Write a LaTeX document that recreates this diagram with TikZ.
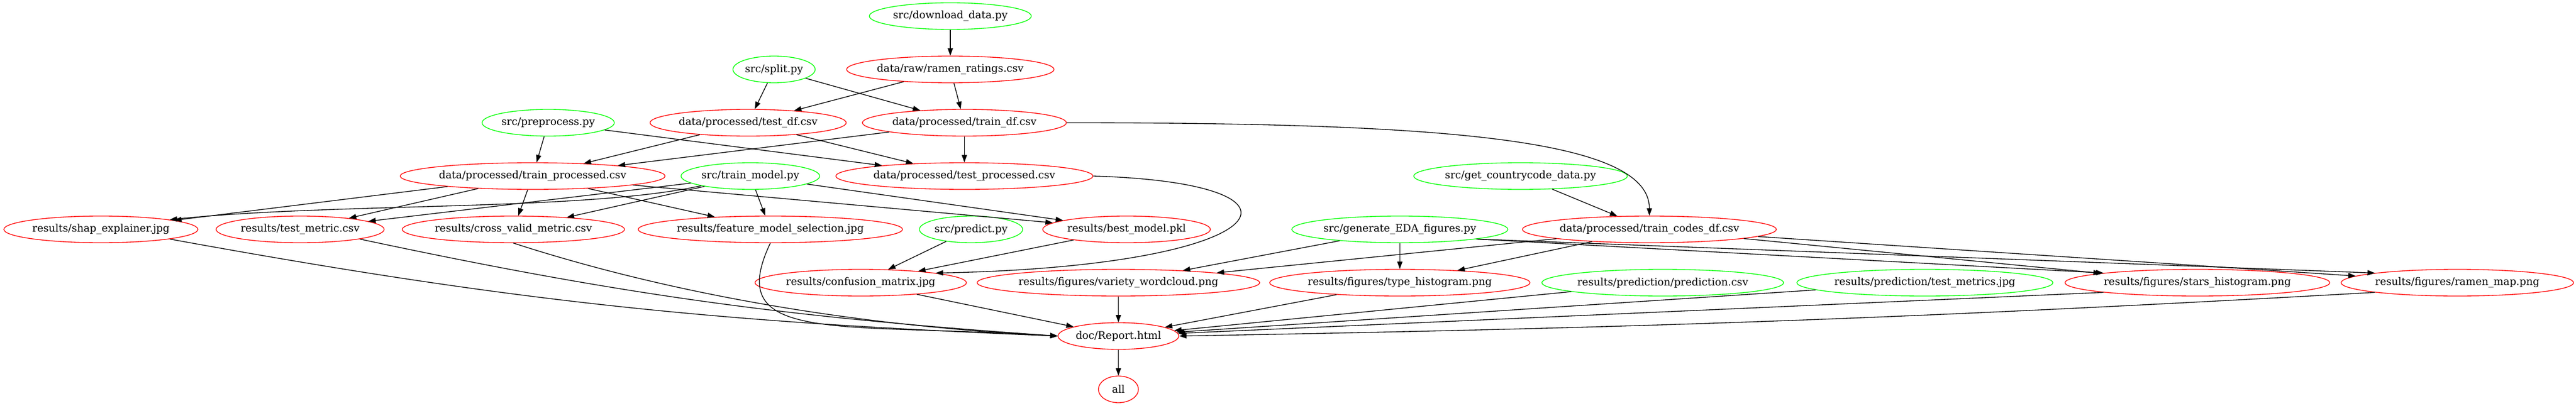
\documentclass[tikz,border=0pt]{standalone}
\usepackage{fontspec}
\setmainfont{DejaVu Serif}
\usetikzlibrary{shapes.geometric, arrows.meta, positioning}
\tikzstyle{script} = [ellipse, draw=green, line width=1pt, minimum width=54pt, minimum height=36pt, inner xsep=0pt, inner ysep=2pt, font=\fontsize{14pt}{16pt}\selectfont]
\tikzstyle{target} = [ellipse, draw=red, line width=1pt, minimum width=54pt, minimum height=36pt, inner xsep=0pt, inner ysep=2pt, font=\fontsize{14pt}{16pt}\selectfont]
\tikzstyle{arrow} = [line width=1pt,->,>={Triangle[length=10pt,width=7pt]}]

\begin{document}
\begin{tikzpicture}[node distance=72pt]
    \useasboundingbox (-1283.25pt,-526.5pt) rectangle (2195.25pt,21.75pt);

    \node (download) [script] {src/download\_data.py};
    \node (raw) [target, below of=download] {data/raw/ramen\_ratings.csv};
    \node (split) [script, left of=raw, xshift=-166pt] {src/split.py};
    \node (traindf) [target, below of=raw, xshift=19pt] {data/processed/train\_df.csv};
    \node (testdf) [target, left of=traindf, xshift=-220pt] {data/processed/test\_df.csv};
    \node (preprocess) [script, left of=testdf, xshift=-198pt] {src/preprocess.py};
    \node (testproc) [target, below of=traindf] {data/processed/test\_processed.csv};
    \node (trainmodel) [script, left of=testproc, xshift=-217pt] {src/train\_model.py};
    \node (trainproc) [target, left of=trainmodel, xshift=-222pt] {data/processed/train\_processed.csv};
    \node (country) [script, right of=testproc, xshift=679pt] {src/get\_countrycode\_data.py};

    \node (featsel) [target, below of=trainmodel, xshift=27pt] {results/feature\_model\_selection.jpg};
    \node (crossvalid) [target, left of=featsel, xshift=-275pt] {results/cross\_valid\_metric.csv};
    \node (testmetric) [target, left of=crossvalid, xshift=-216pt] {results/test\_metric.csv};
    \node (shap) [target, left of=testmetric, xshift=-197pt] {results/shap\_explainer.jpg};
    \node (predict) [script, right of=featsel, xshift=199pt] {src/predict.py};
    \node (bestmodel) [target, right of=predict, xshift=138pt] {results/best\_model.pkl};
    \node (eda) [script, right of=bestmodel, xshift=297pt] {src/generate\_EDA\_figures.py};
    \node (codes) [target, right of=eda, xshift=265pt] {data/processed/train\_codes\_df.csv};

    \node (wordcloud) [target, below of=bestmodel, xshift=-11pt] {results/figures/variety\_wordcloud.png};
    \node (confusion) [target, left of=wordcloud, xshift=-276pt] {results/confusion\_matrix.jpg};
    \node (typehist) [target, below of=eda] {results/figures/type\_histogram.png};
    \node (prediction) [script, right of=typehist, xshift=283pt] {results/prediction/prediction.csv};
    \node (testmetrics) [script, right of=prediction, xshift=282pt] {results/prediction/test\_metrics.jpg};
    \node (starshist) [target, right of=testmetrics, xshift=296pt] {results/figures/stars\_histogram.png};
    \node (ramenmap) [target, right of=starshist, xshift=279pt] {results/figures/ramen\_map.png};

    \node (report) [target, below of=wordcloud] {doc/Report.html};
    \node (all) [target, below of=report] {all};

    \draw [arrow] (download) -- (raw);
    \draw [arrow] (split) -- (testdf);
    \draw [arrow] (split) -- (traindf);
    \draw [arrow] (raw) -- (testdf);
    \draw [arrow] (raw) -- (traindf);
    \draw [arrow] (preprocess) -- (trainproc);
    \draw [arrow] (preprocess) -- (testproc);
    \draw [arrow] (testdf) -- (trainproc);
    \draw [arrow] (testdf) -- (testproc);
    \draw [arrow] (traindf) -- (trainproc);
    \draw [arrow] (traindf) -- (testproc);
    \draw [arrow] (traindf.east) .. controls +(508pt,0pt) and +(0pt,104pt) .. (codes.north);
    \draw [arrow] (country) -- (codes);

    \draw [arrow] (trainproc) -- (shap);
    \draw [arrow] (trainproc) -- (testmetric);
    \draw [arrow] (trainproc) -- (crossvalid);
    \draw [arrow] (trainproc) -- (featsel);
    \draw [arrow] (trainproc) -- (bestmodel);
    \draw [arrow] (trainmodel.south west) .. controls +(-156.75pt,-34.5pt) and +(220.5pt,23.25pt) .. (shap.north east);
    \draw [arrow] (trainmodel) -- (testmetric);
    \draw [arrow] (trainmodel) -- (crossvalid);
    \draw [arrow] (trainmodel) -- (featsel);
    \draw [arrow] (trainmodel) -- (bestmodel);
    \draw [arrow] (testproc.east) .. controls +(325.5pt,-9.75pt) and +(462pt,9pt) .. (confusion.north east);
    \draw [arrow] (predict) -- (confusion);
    \draw [arrow] (bestmodel) -- (confusion);

    \draw [arrow] (eda) -- (wordcloud);
    \draw [arrow] (eda) -- (typehist);
    \draw [arrow] (eda.south east) -- (starshist.north west);
    \draw [arrow] (eda.south east) -- (ramenmap.north west);
    \draw [arrow] (codes) -- (wordcloud);
    \draw [arrow] (codes) -- (typehist);
    \draw [arrow] (codes) -- (starshist);
    \draw [arrow] (codes) -- (ramenmap);

    \draw [arrow] (shap.south east) .. controls +(461.25pt,-84pt) and +(-468pt,18.75pt) .. (report.west);
    \draw [arrow] (testmetric.south east) .. controls +(359.25pt,-76.5pt) and +(-366.75pt,25.5pt) .. (report.west);
    \draw [arrow] (crossvalid.south) .. controls +(192pt,-62.25pt) and +(-298.5pt,15pt) .. (report.west);
    \draw [arrow] (featsel.south) .. controls +(-65.25pt,-137.25pt) and +(-298.5pt,18.75pt) .. (report.west);
    \draw [arrow] (confusion) -- (report);
    \draw [arrow] (wordcloud) -- (report);
    \draw [arrow] (typehist) -- (report);
    \draw [arrow] (prediction) -- (report);
    \draw [arrow] (testmetrics) -- (report);
    \draw [arrow] (starshist.south west) -- (report);
    \draw [arrow] (ramenmap.south west) .. controls +(-627.75pt,-35.25pt) and +(627.75pt,11pt) .. (report.east);
    \draw [arrow] (report) -- (all);

\end{tikzpicture}
\end{document}
